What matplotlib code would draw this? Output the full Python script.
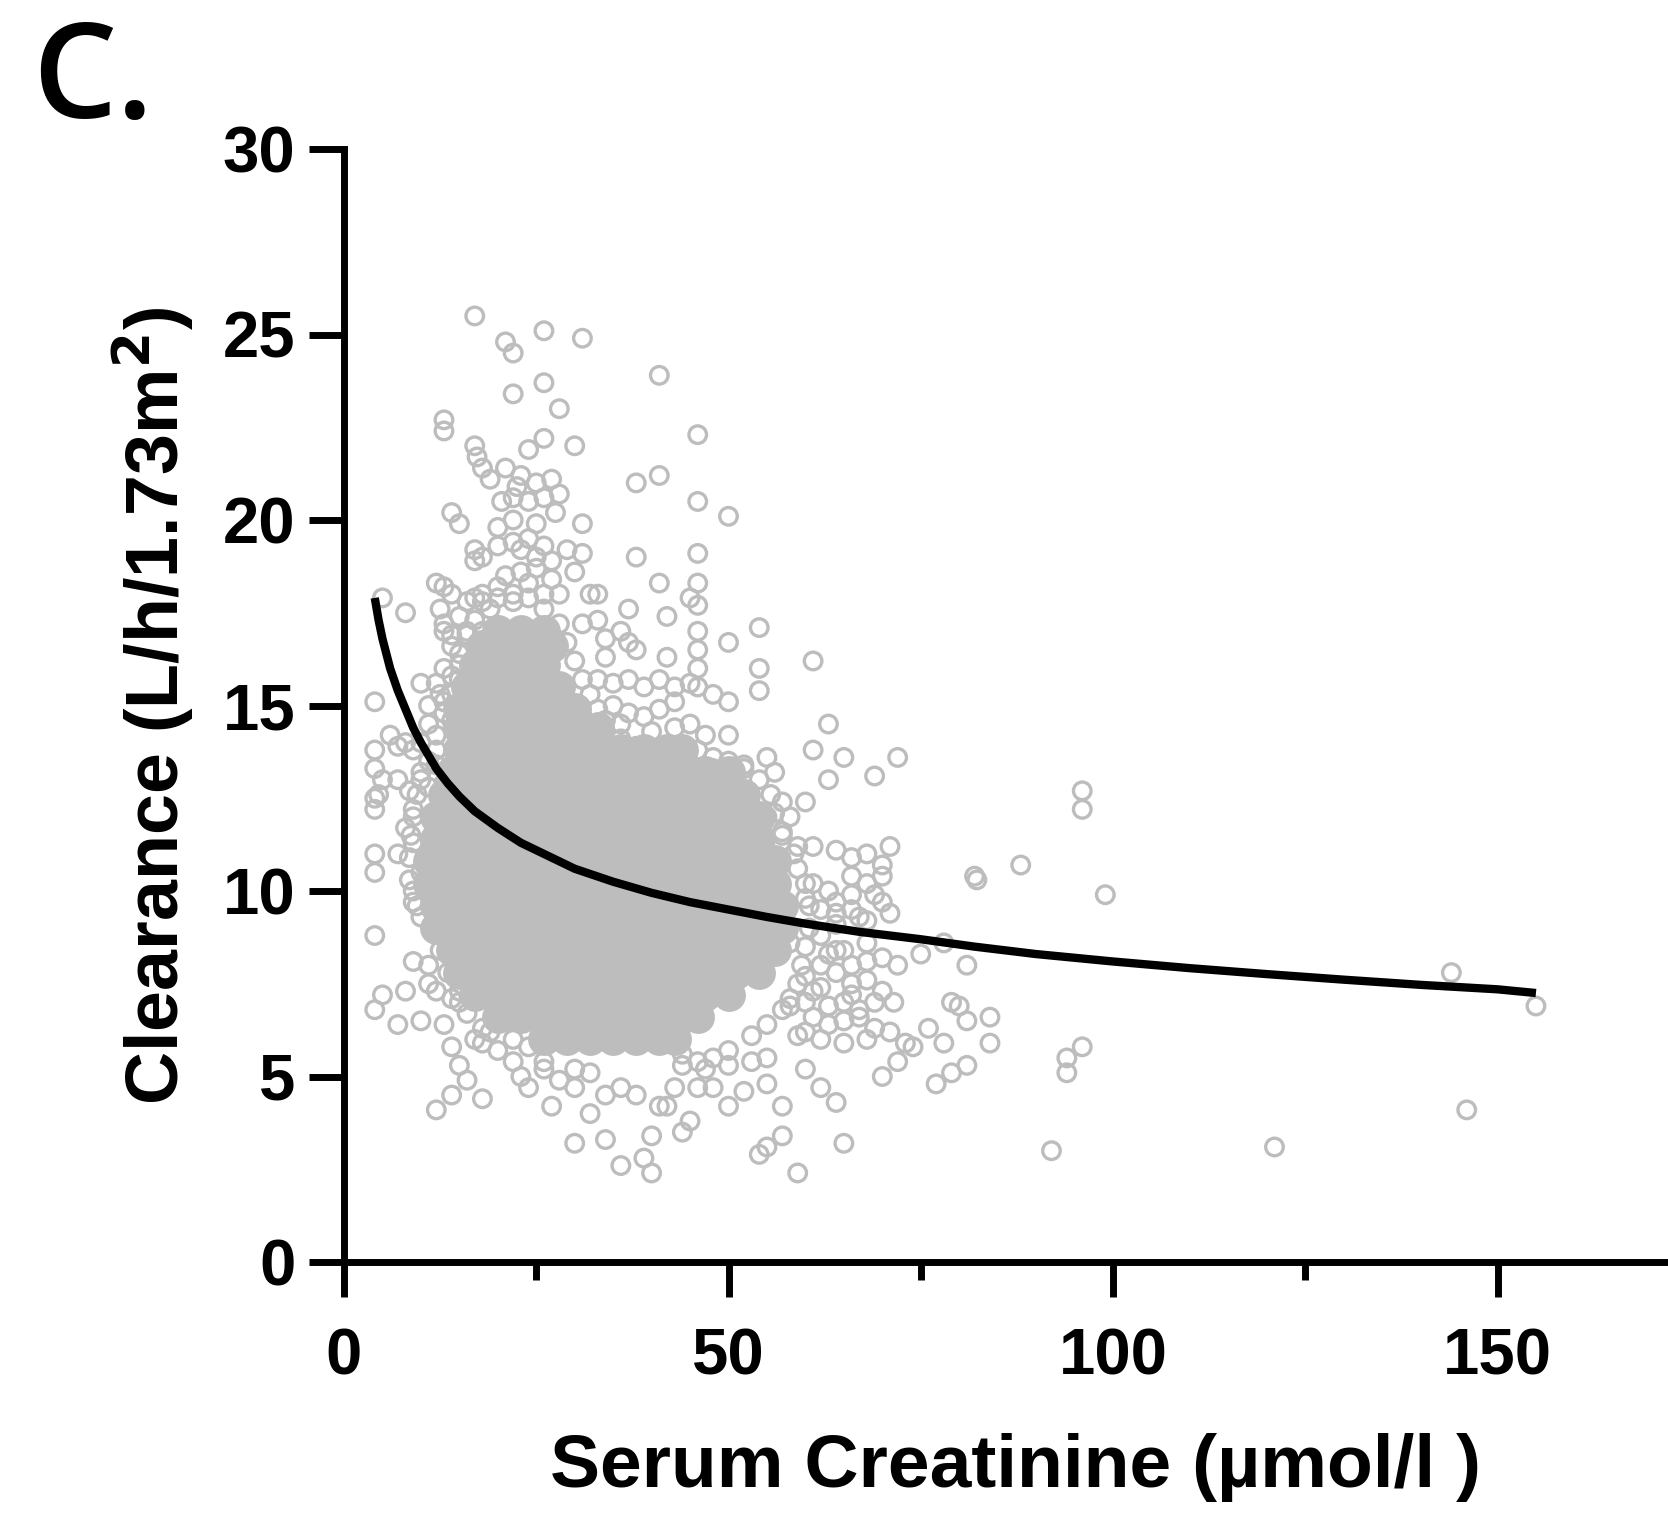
import matplotlib
matplotlib.use("Agg")
import matplotlib.pyplot as plt

# single points (open circles)
open_x = [17,21,22,26,31,41,26,22,28,13,13,46,26,30,17,17.3,24,18,19,21,23,22.5,25,27,41,38,28,20.5,22,24,26,27.5,46,50,
          14,15,20,22,25,31,17,17,18,20,22,23,24,25,26,27,29,31,30,38,46,41,46,45,46,32,33,12,13,14,12.5,8,5,20,22,24,26,28,
          17,18,37,42,36,37,31,33,34,13,14,16,54,46,46,46,50,34,38,42,61,54,54,46,48,50,12,14,15,10,4,
          33,35,37,39,41,43,45,35,37,39,41,43,45,36,40,43,47,50,63,61,65,63,69,72,55,56,48,52,
          6,7,8,9,4,4,5,7,8.5,4,4.5,4,
          57,60,58,55,57,59,61,64,66,68,71,70,70,66,68,61,63,60,64,66,69,71,70,67,64,62,58,65,68,70,72,66,
          64,68,70,71.5,62,60,65,67,58,61,63,65,67,69,71,59,65,73,74,
          82,82.3,88,96,96,99,78,81,75,79,80,81,84,84,76,78,72,70,77,79,81,96,94,94,92,121,144,155,146,
          4,4,4,4,5,7,8,10,7,9,9.5,9,11,11,12,13,14,14,15,13,14,15,12,14,16,18,17,18,19,21,22,23,24,27,30,32,34,36,39,40,40,
          26,28,30,32,34,36,38,41,42,44,45,43,46,48,50,52,53,55,55,57,60,62,64,65,55,54,57,59,50,47,44,
          11,10,10,11,9,8,9,10,11,12,12,13]
open_y = [25.5,24.8,24.5,25.1,24.9,23.9,23.7,23.4,23,22.7,22.4,22.3,22.2,22,22,21.7,21.9,21.4,21.1,21.4,21.2,20.9,21,21.1,21.2,21,20.7,20.5,20.6,20.5,20.6,20.2,20.5,20.1,
          20.2,19.9,19.8,20,19.9,19.9,19.2,18.9,19,19.3,19.4,19.2,19.5,19,19.3,18.9,19.2,19.1,18.6,19,19.1,18.3,18.3,17.9,17.7,18,18,18.3,18.2,18,17.6,17.5,17.9,18.2,18,18.3,18,18,
          17.9,17.8,17.6,17.4,17,16.7,17.2,17.3,16.8,17,16.6,17,17.1,17,16.5,16,16.7,16.3,16.5,16.3,16.2,16,15.4,15.5,15.3,15.1,15.6,15.8,16.1,15.6,15.1,
          15.7,15.6,15.7,15.5,15.7,15.5,15.6,15,14.8,14.7,14.9,15.1,14.5,14.5,14.3,14.4,14.2,14.2,14.5,13.8,13.6,13,13.1,13.6,13.6,13.2,13.3,13.3,
          14.2,13.9,14,13.8,13.8,13.3,13,13,12.7,12.5,12.6,12.2,
          12.4,12.4,12,12,11.5,11.2,11.2,11.1,10.9,11,11.2,10.7,10.4,10.4,10.2,10.2,10,9.8,9.7,9.9,9.9,9.4,9.7,9.3,9.1,8.8,8.6,8.4,8.6,8.2,8,8,
          7.8,7.6,7.3,7,7.4,7,7,6.8,6.9,6.6,6.4,6.5,6.6,6.3,6.2,6.1,5.9,5.9,5.8,
          10.4,10.3,10.7,12.7,12.2,9.9,8.6,8,8.3,7,6.9,6.5,6.6,5.9,6.3,5.9,5.4,5,4.8,5.1,5.3,5.8,5.5,5.1,3,3.1,7.8,6.9,4.1,
          11,10.5,8.8,6.8,7.2,6.4,7.3,6.5,11,10,9.6,8.1,7.5,8,7.3,8.8,8.2,7.1,7,6.4,5.8,5.3,4.1,4.5,4.9,4.4,6,5.9,6.2,6.5,5.4,5,4.7,4.2,3.2,4,3.3,2.6,2.8,2.4,3.4,
          5.2,4.9,4.7,5.1,4.5,4.7,4.5,4.2,4.2,3.5,3.8,4.7,4.7,4.7,4.2,4.6,5.4,5.5,4.8,4.2,5.2,4.7,4.3,3.2,3.1,2.9,3.4,2.4,5.3,5.2,5.3,
          14.5,14,13.2,12.8,12.2,11.7,11.3,10.5,10,9.5,9,9.4]

# circles on the rim of the solid part
rim_x = [13,14,15,16,17,13,12.5,13,11,12,18,20,22,24,26,28,29,30,31,32,33,34,36,38,40,42,44,46,48,50,52,54,55.5,56,57,58.5,59,60,
         60.5,60.5,60,59.5,59,58,57,55,53,50,48,46,20,18,16,15,13.5,12.5,11.5,10,9,8.5,8.5,8.7,9,9.5,10,11,12,
         62,64,66,68,63,60,62,64,66,68,69,66,63,61,60,62,68,22,24,26,44,30,
         15,16,17,18,15,16,17,14,15,16,17,19,21,23,25,27,13,14,15,12,13,14]
rim_y = [17.2,16.9,17.4,17.8,17.3,16,15.3,14.8,15,14.2,18,17.9,17.8,17.9,17.6,17.2,16.7,16.2,15.7,15.3,14.9,14.6,14.1,13.9,13.8,13.8,13.9,13.8,13.6,13.5,13.4,13,12.6,12.1,11.6,11,10.6,10.2,
         9.6,9,8.5,8,7.5,7.1,6.8,6.4,6.1,5.7,5.5,5.4,5.7,6.3,6.7,7.3,7.8,8.4,8.9,9.3,9.7,10.3,10.9,11.5,12,12.6,13,13.5,13.8,
         9.5,9.4,9.5,9.2,8.3,7.7,8,8.4,7.5,8.1,7,7.2,6.9,7.3,6.2,6,6,6,5.8,5.4,5.6,5.2,
         16.4,16.9,16.2,17,15.7,15.4,15.9,15.3,14.9,14.5,14.8,17.6,18.5,18.6,18.7,18.4,15.1,14.6,13.9,13.4,12.9,12.6]

# where the circles overlap so much they merge to solid grey
core_x = [20,23,26,
          18,21,24,27,
          17,20,23,26,
          16,19,22,25,28,
          15,18,21,24,27,30,
          15,18,21,24,27,30,33,
          15,18,21,24,27,30,33,36,39,42,44,
          14,17,20,23,26,29,32,35,38,41,44,47,50,
          13,16,19,22,25,28,31,34,37,40,43,46,49,52,
          12,15,18,21,24,27,30,33,36,39,42,45,48,51,54,
          12,15,18,21,24,27,30,33,36,39,42,45,48,51,54,
          11,14,17,20,23,26,29,32,35,38,41,44,47,50,53,56,
          11,14,17,20,23,26,29,32,35,38,41,44,47,50,53,56,
          12,15,18,21,24,27,30,33,36,39,42,45,48,51,54,57,
          12,15,18,21,24,27,30,33,36,39,42,45,48,51,54,57,
          14,17,20,23,26,29,32,35,38,41,44,47,50,53,56,
          15,18,21,24,27,30,33,36,39,42,45,48,51,54,
          17,20,23,26,29,32,35,38,41,44,47,50,
          20,23,26,29,32,35,38,41,44,46,
          26,29,32,35,38,41,43]
core_y = [17.0]*3 + [16.6]*4 + [16.1]*4 + [15.5]*5 + [14.9]*6 + [14.4]*7 + [13.8]*11 + [13.2]*13 + [12.6]*14 + \
         [12.0]*15 + [11.4]*15 + [10.8]*16 + [10.2]*16 + [9.6]*16 + [9.0]*16 + [8.4]*15 + [7.8]*14 + [7.2]*12 + \
         [6.6]*10 + [6.0]*7

# black fit curve
curve_x = [4,4.5,5,5.5,6,6.5,7,8,9,10,11,12,13.5,15,17,20,23,26,30,35,40,45,50,55,60,67,75,82,90,100,110,120,130,140,150,155]
curve_y = [17.9,17.3,16.8,16.4,16.0,15.7,15.4,14.9,14.4,14.0,13.65,13.3,12.9,12.55,12.15,11.7,11.3,11.0,10.6,10.25,9.95,9.7,9.5,9.3,9.12,8.9,8.7,8.5,8.3,8.1,7.92,7.76,7.61,7.47,7.35,7.25]

grey = '#bdbdbd'
W, H = 1668, 1515

fig = plt.figure(figsize=(W/100, H/100), dpi=100)
# axes placed so 0 and 30 land where they are in the picture
x0, y0, y30, px_per_x = 344, 1262, 149, 7.69
ax = fig.add_axes([x0/W, 1-y0/H, (W-x0)/W, (y0-y30)/H])
ax.set_xlim(0, (W-x0)/px_per_x)
ax.set_ylim(0, 30)

ax.scatter(core_x, core_y, s=560, color=grey, linewidths=0, zorder=2)
ax.scatter(open_x + rim_x, open_y + rim_y, s=160, facecolors='none', edgecolors=grey, linewidths=2.4, zorder=3, clip_on=False)
ax.plot(curve_x, curve_y, color='black', lw=6, zorder=4, solid_capstyle='butt')

for s in ['top', 'right']:
    ax.spines[s].set_visible(False)
for s in ['left', 'bottom']:
    ax.spines[s].set_linewidth(5)

ax.set_xticks([0, 50, 100, 150])
ax.set_xticks([25, 75, 125], minor=True)
ax.set_yticks([0, 5, 10, 15, 20, 25, 30])
ax.tick_params(axis='y', which='major', length=25, width=5, labelsize=47, pad=10)
ax.tick_params(axis='x', which='major', length=25, width=5, labelsize=47, pad=22)
ax.tick_params(axis='x', which='minor', length=13, width=5)
for lab in ax.get_xticklabels() + ax.get_yticklabels():
    lab.set_fontfamily('Liberation Sans')
    lab.set_fontweight('bold')

fig.text(1016/W, 1-1468/H, 'Serum Creatinine (µmol/l )', family='Liberation Sans', weight='bold',
         fontsize=54, ha='center', va='center')
fig.text(153/W, 1-706/H, 'Clearance (L/h/1.73m$\\mathbf{^2}$)', family='Liberation Sans', weight='bold',
         fontsize=53, rotation=90, ha='center', va='center', math_fontfamily='custom')
fig.text(32/W, 1-118/H, 'C.', family='Open Sans', weight=600, fontsize=96, ha='left', va='baseline')

fig.savefig('out.png', dpi=100)
